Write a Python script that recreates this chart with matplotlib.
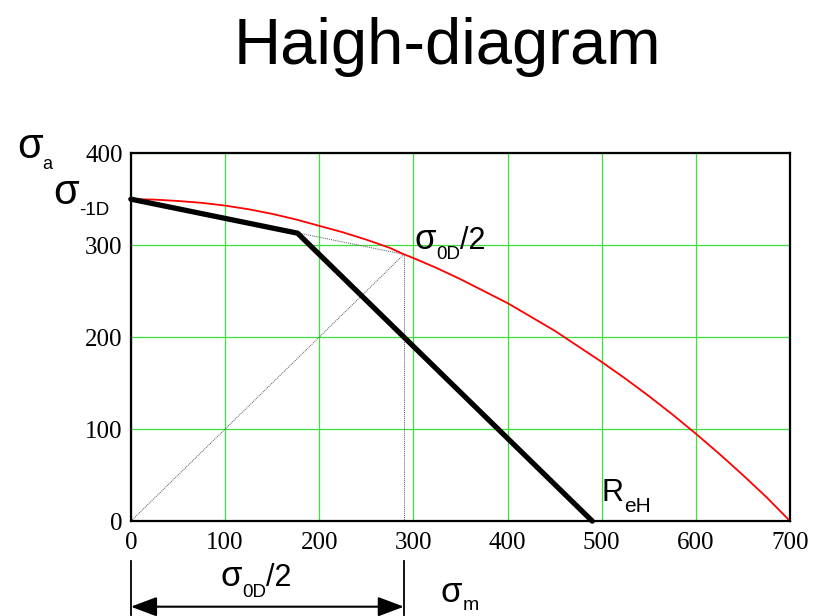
import matplotlib
matplotlib.use('Agg')
import matplotlib.pyplot as plt

plt.rcParams['font.family'] = ['Liberation Sans', 'DejaVu Sans']

# material values (MPa)
SIGMA_M1D = 350      # sigma_-1D
SIGMA_0D_HALF = 290  # sigma_0D / 2
R_EH = 490
R_M = 700

# red limit curve
curve_m = [0, 25, 50, 75, 100, 125, 150, 175, 200, 225, 250, 275, 290, 300, 325, 350,
           375, 400, 425, 450, 475, 500, 525, 550, 575, 600, 625, 650, 675, 700]
curve_a = [350, 349.5, 348, 346, 343, 339, 334, 328, 321, 314, 306, 297, 290, 286, 275,
           263, 250, 237, 222, 207, 190, 173, 155, 136, 116, 95, 73, 50, 26, 0]

# thick black limit line
limit_m = [0, 177, R_EH]
limit_a = [SIGMA_M1D, 313, 0]

x_ticks = [0, 100, 200, 300, 400, 500, 600, 700]
y_ticks = [0, 100, 200, 300, 400]

fig = plt.figure(figsize=(8.23, 6.16), dpi=100)
ax = fig.add_axes([0.159, 0.154, 0.801, 0.5974])

ax.set_xlim(0, 700)
ax.set_ylim(0, 400)
ax.set_xticks(x_ticks)
ax.set_yticks(y_ticks)
ax.tick_params(length=0, labelsize=18)
ax.tick_params(axis='x', pad=8)
ax.tick_params(axis='y', pad=6)
for lab in ax.get_xticklabels() + ax.get_yticklabels():
    lab.set_fontfamily('Liberation Serif')
ax.grid(True, color='#3ee03e', lw=0.9)
ax.set_axisbelow(True)
for sp in ax.spines.values():
    sp.set_linewidth(1.6)

# construction lines
thin = dict(color='#555555', lw=0.7, ls=(0, (1, 1)))
ax.plot([0, SIGMA_0D_HALF], [0, SIGMA_0D_HALF], **thin)
ax.plot([0, SIGMA_0D_HALF], [SIGMA_M1D, SIGMA_0D_HALF], **thin)
ax.plot([SIGMA_0D_HALF, SIGMA_0D_HALF], [SIGMA_0D_HALF, 0], **thin)

ax.plot(curve_m, curve_a, color='#ff0000', lw=1.3, clip_on=False)
ax.plot(limit_m, limit_a, color='black', lw=3.8, solid_capstyle='round',
        solid_joinstyle='miter', clip_on=False)


def sub_label(x, y, main, sub, size, sub_size, drop, tail='', tail_size=None):
    t = ax.text(x, y, main, fontsize=size, va='baseline', ha='left', clip_on=False)
    s = ax.annotate(sub, xy=(1, y), xycoords=(t, 'data'), xytext=(0, -drop),
                    textcoords='offset points', fontsize=sub_size, va='baseline',
                    ha='left', annotation_clip=False)
    if tail:
        ax.annotate(tail, xy=(1, y), xycoords=(s, 'data'), xytext=(0, 0),
                    textcoords='offset points', fontsize=tail_size, va='baseline',
                    ha='left', annotation_clip=False)


sub_label(-121, 395, 'σ', 'a', 30, 13, 8)
sub_label(-82, 345, 'σ', '-1D', 30, 13.5, 8)
sub_label(301, 296, 'σ', '0D', 25, 13.5, 7, '/2', 22)
sub_label(500, 21.7, 'R', 'eH', 22, 15, 8)
sub_label(95, -70.5, 'σ', '0D', 25, 13.5, 8, '/2', 22)
sub_label(329, -88, 'σ', 'm', 25, 14, 6)

# dimension arrow for sigma_0D/2 below the axis
ax.annotate('', xy=(0, -93), xytext=(SIGMA_0D_HALF, -93), annotation_clip=False,
            arrowprops=dict(arrowstyle='<|-|>,head_length=0.8,head_width=0.3',
                            mutation_scale=20, color='black', lw=1.5,
                            shrinkA=0, shrinkB=0))
ax.plot([0, 0], [-43, -102], color='black', lw=1.3, clip_on=False)
ax.plot([SIGMA_0D_HALF, SIGMA_0D_HALF], [-43, -102], color='black', lw=1.3, clip_on=False)

fig.text(447 / 823, 1 - 64 / 616, 'Haigh-diagram', fontsize=47, ha='center', va='baseline')

fig.savefig('out.png', dpi=100)
